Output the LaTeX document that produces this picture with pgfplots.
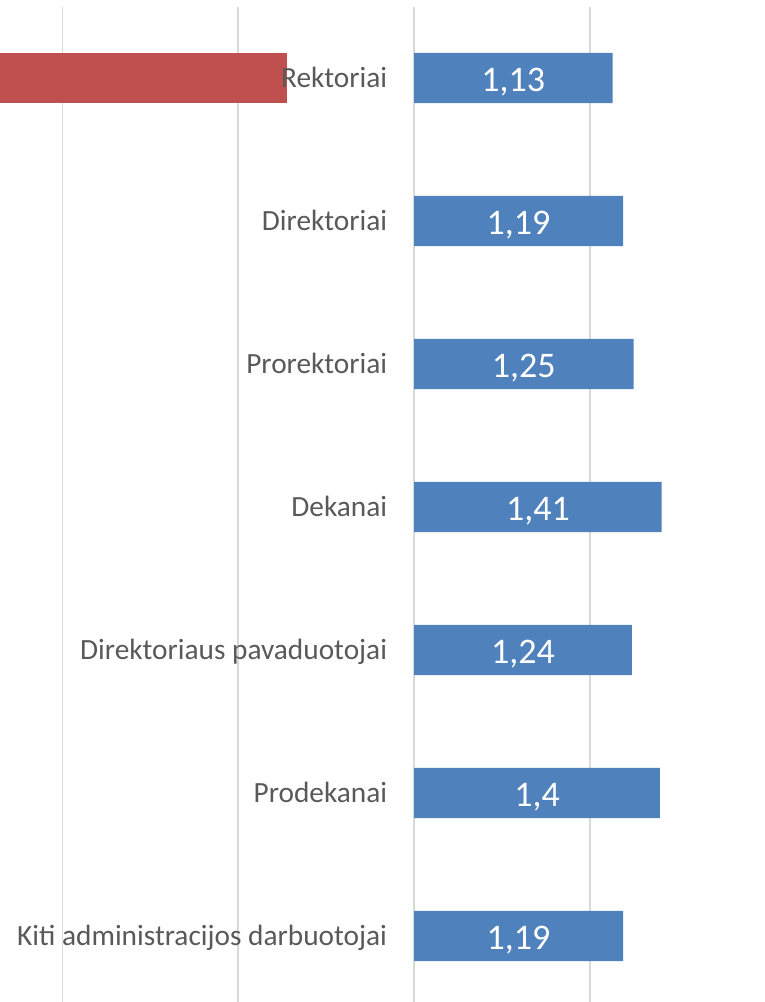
\documentclass[border=0pt]{standalone}
\usepackage{pgfplots}
\pgfplotsset{compat=1.18}
\usepackage{pgfplotstable}
\usepackage{fontspec}
\setmainfont{Carlito}
\definecolor{barblue}{HTML}{4F81BD}
\definecolor{barred}{HTML}{C0504D}
\definecolor{labgray}{HTML}{595959}
\definecolor{gridgray}{HTML}{D9D9D9}
\pgfplotstableread[col sep=semicolon]{
y;v;lab;name
1;1.13;1,13;Rektoriai
2;1.19;1,19;Direktoriai
3;1.25;1,25;Prorektoriai
4;1.41;1,41;Dekanai
5;1.24;1,24;Direktoriaus pavaduotojai
6;1.40;1,4;Prodekanai
7;1.19;1,19;Kiti administracijos darbuotojai
}\data
\begin{document}
\begin{tikzpicture}
\useasboundingbox (0,0) rectangle (573pt,751.5pt);
\begin{axis}[
  at={(0,0)}, anchor=south west,
  scale only axis, width=573pt, height=746.25pt,
  xmin=-2.3563, xmax=1.9920,
  ymin=0.5035, ymax=7.4615, y dir=reverse,
  xtick={-2,-1,0,1}, xticklabels={}, ytick=\empty,
  xmajorgrids, grid style={gridgray, line width=1.3pt},
  axis line style={draw=none}, tick style={draw=none},
  clip=false,
]
\addplot[fill=barred, draw=none] coordinates {(-2.3563,0.825) (-0.723,0.825) (-0.723,1.175) (-2.3563,1.175)};
\addplot[xbar, bar width=0.35, fill=barblue, draw=none] table[x=v, y=y] {\data};
\addplot[draw=none, mark=none, nodes near coords, point meta=explicit symbolic,
  nodes near coords style={anchor=base east, inner sep=0pt, xshift=-20pt, yshift=-7.1pt, text=labgray, font=\fontsize{22}{26}\selectfont}]
  table[x expr=0, y=y, meta=name] {\data};
\addplot[draw=none, mark=none, nodes near coords, point meta=explicit symbolic,
  nodes near coords style={anchor=base, inner sep=0pt, yshift=-10pt, text=white, font=\fontsize{27}{32}\selectfont}]
  table[x expr=\thisrow{v}/2, y=y, meta=lab] {\data};
\end{axis}
\end{tikzpicture}
\end{document}
